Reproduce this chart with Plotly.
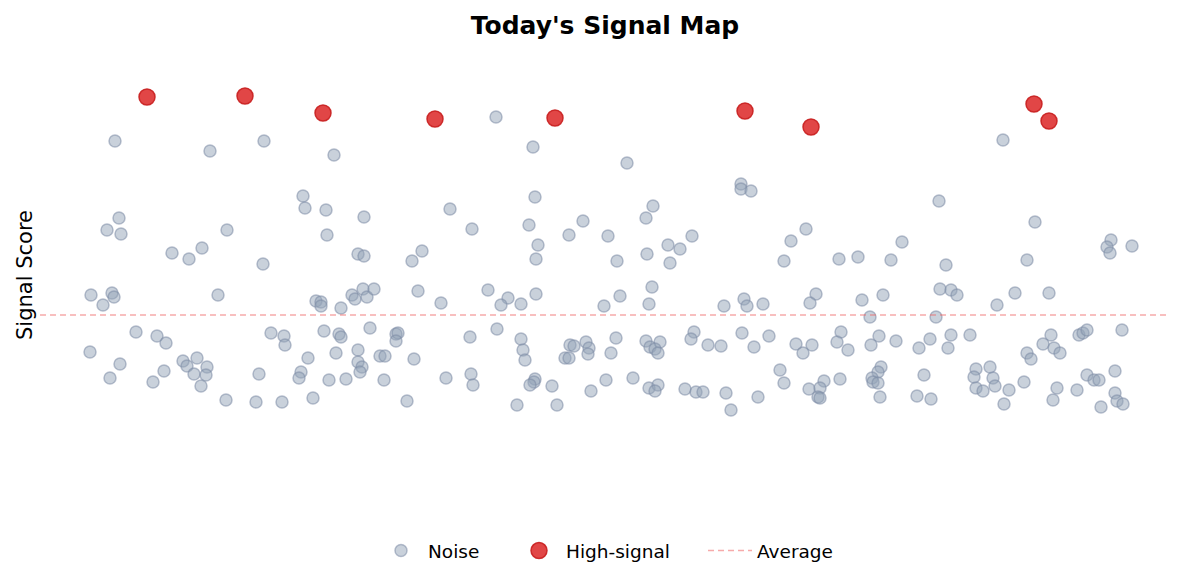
import plotly.graph_objects as go

# values (x = position along the day, y = score)
noise_x = [
    115, 210, 264, 119, 107, 121, 227, 172, 189, 202, 263, 91, 112, 114, 103, 218, 136, 157, 166, 90,
    120, 110, 183, 197, 187, 164, 207, 194, 206, 201, 153, 226, 256, 259, 271,
    334, 303, 305, 326, 364, 450, 327, 358, 364, 412, 422, 316, 321, 321, 341, 352, 355, 363, 367,
    374, 418, 441, 284, 285, 324, 339, 341, 370, 396, 398, 396, 308, 336, 358, 358, 362, 360, 380,
    385, 414, 301, 299, 329, 346, 384, 446, 282, 313, 407,
    496, 533, 627, 535, 472, 529, 583, 569, 608, 538, 536, 617, 488, 508, 501, 521, 536, 604, 620,
    497, 470, 521, 523, 525, 570, 574, 565, 569, 586, 589, 588, 616, 611, 471, 473, 535, 534, 530,
    552, 606, 633, 591, 517, 557,
    741, 741, 751, 653, 646, 647, 668, 680, 692, 670, 806, 791, 784, 652, 649, 724, 744, 747, 763,
    816, 810, 646, 660, 650, 655, 658, 694, 691, 708, 721, 742, 754, 769, 796, 812, 803, 780, 784,
    824, 649, 658, 655, 685, 696, 703, 726, 758, 809, 820, 818, 820, 731,
    939, 902, 839, 858, 891, 946, 862, 883, 870, 940, 951, 957, 936, 997, 1015, 841, 837, 848, 879,
    871, 896, 919, 930, 951, 948, 970, 881, 878, 872, 873, 878, 840, 924, 880, 917, 931, 976, 990,
    974, 993, 976, 983, 995, 1009, 1024, 1004,
    1003, 1035, 1027, 1111, 1107, 1110, 1132, 1049, 1051, 1043, 1054, 1060, 1027, 1031, 1079, 1083,
    1087, 1122, 1057, 1053, 1077, 1087, 1094, 1099, 1115, 1115, 1117, 1123, 1101,
]
noise_y = [
    443, 433, 443, 366, 354, 350, 354, 331, 325, 336, 320, 289, 291, 287, 279, 289, 252, 248, 241, 232,
    220, 206, 223, 226, 218, 213, 217, 210, 209, 198, 202, 184, 182, 210, 251,
    429, 388, 376, 374, 367, 375, 349, 330, 328, 323, 333, 283, 282, 278, 276, 289, 285, 295, 287,
    295, 293, 281, 248, 239, 253, 250, 247, 256, 250, 251, 243, 226, 231, 234, 222, 217, 212, 228,
    228, 225, 212, 206, 204, 205, 204, 206, 182, 186, 183,
    467, 437, 421, 387, 355, 359, 363, 349, 348, 339, 325, 323, 294, 286, 279, 280, 290, 278, 288,
    255, 247, 245, 234, 224, 239, 238, 226, 226, 242, 236, 230, 246, 231, 210, 199, 205, 202, 199,
    198, 204, 206, 193, 179, 179,
    400, 395, 393, 378, 366, 330, 339, 335, 348, 321, 355, 343, 323, 297, 280, 278, 285, 278, 280,
    290, 281, 243, 242, 237, 235, 231, 252, 245, 239, 238, 251, 237, 248, 240, 239, 231, 214, 201,
    203, 196, 199, 193, 195, 192, 192, 191, 187, 195, 196, 187, 186, 174,
    383, 342, 325, 327, 324, 319, 284, 289, 267, 295, 294, 289, 267, 279, 291, 252, 242, 234, 248,
    239, 243, 236, 245, 249, 236, 249, 217, 212, 206, 202, 201, 205, 209, 187, 188, 185, 215, 217,
    207, 206, 196, 193, 198, 194, 202, 180,
    444, 362, 324, 344, 337, 331, 338, 291, 249, 240, 236, 231, 231, 225, 249, 251,
    254, 254, 196, 184, 194, 209, 204, 204, 213, 191, 183, 180, 177,
]
signal_x = [147, 245, 323, 435, 555, 745, 811, 1034, 1049]
signal_y = [487, 488, 471, 465, 466, 473, 457, 480, 463]
average_score = 269
day_span = [40, 1170]

FONT = "DejaVu Sans"
# the page body adds an 8px margin, so the figure is drawn 8px smaller
W, H = 1185 - 8, 584 - 8

fig = go.Figure()
fig.add_trace(
    go.Scatter(
        x=noise_x,
        y=noise_y,
        mode="markers",
        name="Noise",
        legend="legend",
        marker={
            "size": 12,
            "color": "rgba(148,163,184,0.5)",
            "line": {"width": 1.5, "color": "rgba(125,140,165,0.55)"},
        },
        hoverinfo="skip",
    )
)
fig.add_trace(
    go.Scatter(
        x=signal_x,
        y=signal_y,
        mode="markers",
        name="High-signal",
        legend="legend2",
        marker={
            "size": 16,
            "color": "rgba(220,38,38,0.85)",
            "line": {"width": 1.5, "color": "rgba(200,30,30,0.9)"},
        },
    )
)
fig.add_trace(
    go.Scatter(
        x=day_span,
        y=[average_score, average_score],
        mode="lines",
        name="Average",
        legend="legend3",
        line={"color": "rgba(239,100,100,0.55)", "width": 1.5, "dash": "6px,4px"},
        hoverinfo="skip",
    )
)

legend_y = (502 - 543) / 470


def legend_at(px):
    return {
        "orientation": "h",
        "x": (px - 8 - 32) / 1130,
        "xanchor": "left",
        "y": legend_y,
        "yanchor": "middle",
        "font": {"size": 18.5},
        "itemwidth": 44,
    }


fig.update_layout(
    width=W,
    height=H,
    paper_bgcolor="white",
    plot_bgcolor="white",
    font={"family": FONT, "color": "black"},
    margin={"l": 32, "r": 15, "t": 32, "b": 74},
    title={
        "text": "<b>Today's Signal Map</b>",
        "font": {"size": 25, "family": FONT},
        "xref": "paper",
        "x": 0.5,
        "xanchor": "center",
        "y": 1 - 17 / H,
        "yanchor": "middle",
    },
    xaxis={
        "range": day_span,
        "showgrid": False,
        "zeroline": False,
        "showticklabels": False,
        "ticks": "",
        "showline": False,
    },
    yaxis={
        "range": [74, 544],
        "showgrid": False,
        "zeroline": False,
        "showticklabels": False,
        "ticks": "",
        "showline": False,
    },
    annotations=[
        {
            "text": "Signal Score",
            "textangle": -90,
            "xref": "paper",
            "yref": "paper",
            "x": (25 - 8 - 32) / 1130,
            "y": 0.5,
            "xanchor": "center",
            "yanchor": "middle",
            "showarrow": False,
            "font": {"size": 21},
        }
    ],
    showlegend=True,
    legend=legend_at(374),
    legend2=legend_at(512),
    legend3=legend_at(703),
)

fig.write_html("out.html")
